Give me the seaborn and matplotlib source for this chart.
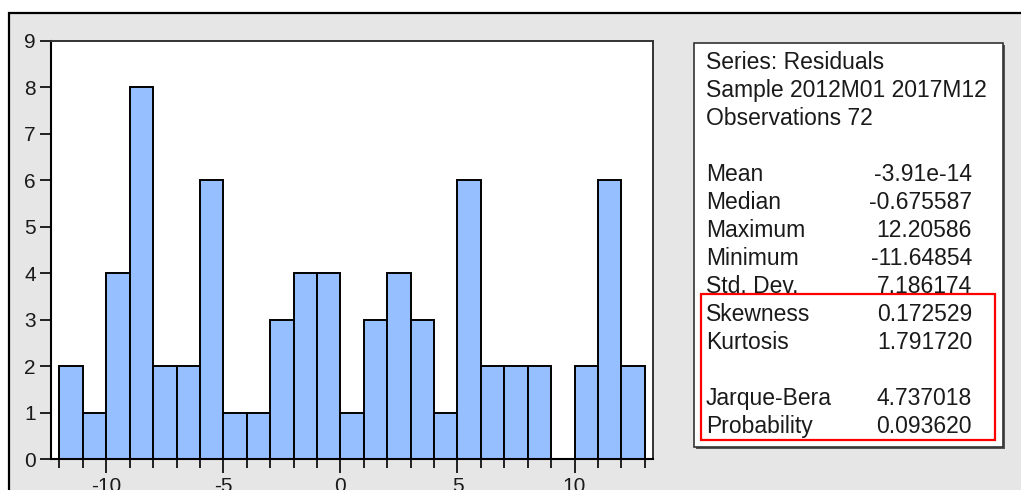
import numpy as np
import pandas as pd
import matplotlib
matplotlib.use("Agg")
import matplotlib.pyplot as plt
from matplotlib.patches import Rectangle
from matplotlib.ticker import MultipleLocator
import seaborn as sns

# Histogram of residuals: unit-width bins from -12 to 13
bin_edges = list(range(-12, 14))
bin_counts = [2, 1, 4, 8, 2, 2, 6, 1, 1, 3, 4, 4, 1, 3, 4, 3, 1, 6, 2, 2, 2, 0, 2, 6, 2]

# Descriptive statistics panel
header_lines = ["Series: Residuals", "Sample 2012M01 2017M12", "Observations 72"]
stat_names = ["Mean", "Median", "Maximum", "Minimum", "Std. Dev.",
              "Skewness", "Kurtosis", "Jarque-Bera", "Probability"]
stat_values = ["-3.91e-14", "-0.675587", "12.20586", "-11.64854", "7.186174",
               "0.172529", "1.791720", "4.737018", "0.093620"]
stat_rows = [4, 5, 6, 7, 8, 9, 10, 12, 13]

sns.set_style("white")
plt.rcParams["font.family"] = ["Liberation Sans", "DejaVu Sans"]
plt.rcParams["axes.unicode_minus"] = False

W, H = 1021, 490
fig = plt.figure(figsize=(W / 100, H / 100), dpi=100)
fig.patch.set_facecolor("white")


def fx(x):
    return x / W


def fy(y):
    return 1 - y / H


# grey window frame
fig.patches.append(Rectangle((fx(9), fy(600)), fx(1100), fy(12.7) - fy(600),
                             transform=fig.transFigure, facecolor="#e6e6e6",
                             edgecolor="black", linewidth=1.6, zorder=-5))

ax = fig.add_axes([fx(51), fy(459), fx(653) - fx(51), fy(41) - fy(459)])
ax.set_facecolor("white")

centers = [(a + b) / 2 for a, b in zip(bin_edges[:-1], bin_edges[1:])]
df = pd.DataFrame({"residual": centers, "count": bin_counts})
sns.histplot(data=df, x="residual", weights="count", bins=bin_edges, ax=ax,
             color="#96bfff", edgecolor="black", linewidth=1.4, alpha=1.0)

ax.set_xlim(-12.36, 13.35)
ax.set_ylim(0, 9)
ax.set_xlabel("")
ax.set_ylabel("")

ax.set_xticks([-10, -5, 0, 5, 10])
ax.xaxis.set_minor_locator(MultipleLocator(1))
ax.set_yticks(range(0, 10))

ax.tick_params(axis="x", which="major", direction="out", length=10, width=1.2,
               color="black", labelsize=15, pad=3, labelcolor="#1a1a1a")
ax.tick_params(axis="x", which="minor", direction="out", length=6.5, width=1.2,
               color="black")
ax.tick_params(axis="y", which="major", direction="out", length=8, width=1.2,
               color="black", labelsize=15, pad=3, labelcolor="#1a1a1a")
ax.tick_params(left=True, bottom=True, which="both")

for side in ["left", "bottom"]:
    ax.spines[side].set_color("black")
    ax.spines[side].set_linewidth(1.5)
for side in ["top", "right"]:
    ax.spines[side].set_color("#333333")
    ax.spines[side].set_linewidth(1.4)

# statistics box with a slight shadow
bx0, by0, bx1, by1 = 694, 43, 1003, 447
fig.patches.append(Rectangle((fx(bx0 + 2), fy(by1 + 2)), fx(bx1 - bx0), fy(by0) - fy(by1),
                             transform=fig.transFigure, facecolor="#555555",
                             edgecolor="none", zorder=1))
fig.patches.append(Rectangle((fx(bx0), fy(by1)), fx(bx1 - bx0), fy(by0) - fy(by1),
                             transform=fig.transFigure, facecolor="white",
                             edgecolor="#333333", linewidth=1.2, zorder=2))

# highlight around the normality test rows
fig.patches.append(Rectangle((fx(701), fy(440)), fx(995 - 701), fy(294) - fy(440),
                             transform=fig.transFigure, facecolor="none",
                             edgecolor="#ff0000", linewidth=1.6, zorder=4))

text_kw = dict(fontsize=16.5, color="#1a1a1a", va="baseline", zorder=5)
for i, line in enumerate(header_lines):
    fig.text(fx(706), fy(69 + 28 * i), line, ha="left", **text_kw)
for name, val, row in zip(stat_names, stat_values, stat_rows):
    fig.text(fx(706), fy(69 + 28 * row), name, ha="left", **text_kw)
    fig.text(fx(972), fy(69 + 28 * row), val, ha="right", **text_kw)

fig.savefig("out.png", dpi=100)
